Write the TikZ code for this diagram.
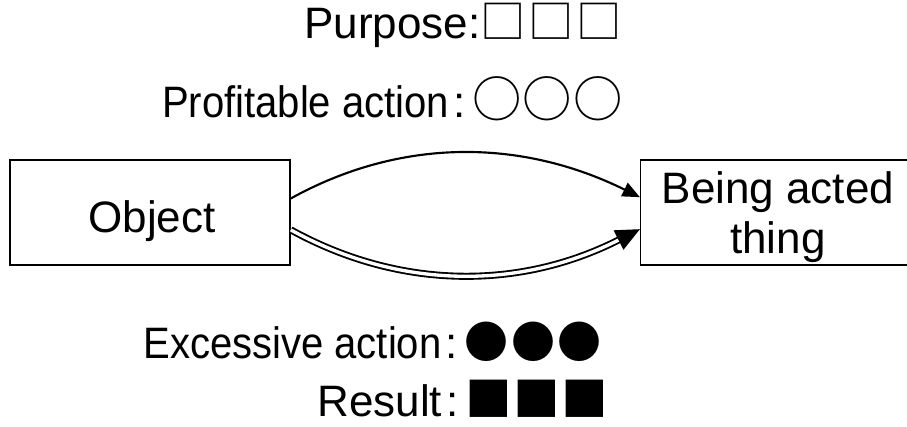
\documentclass[tikz,border=0pt]{standalone}
\usepackage{fontspec}
\setmainfont{Liberation Sans}
\newfontfamily\narrowsans[FakeStretch=0.91]{Liberation Sans}
\newfontfamily\cjk{Noto Sans CJK JP}
\usetikzlibrary{positioning,arrows.meta}
% three full-width marks: size, gap, glyph
\newcommand\trio[3]{{\cjk\fontsize{#1}{38}\selectfont #3\hspace{#2}#3\hspace{#2}#3}}
\newcommand\fcolon{\kern3pt:\kern5pt}

\begin{document}
\begin{tikzpicture}[x=0.75pt, y=-0.75pt,
    font=\fontsize{33}{37.5}\selectfont,
    box/.style={draw, line width=1.1pt, inner sep=0pt},
    txt/.style={inner sep=0pt, anchor=base east},
    link/.style={line width=1.6pt}]
    \useasboundingbox (0,0) rectangle (907,426);

    \node[txt] (purpose) at (622,38) {Purpose:\trio{34}{2pt}{□}};
    \node[txt] (profit) at (623,117) {{\narrowsans Profitable action}\fcolon\trio{37}{1pt}{○}};

    \node[box, minimum width=210pt, minimum height=78.75pt] (obj) at (150,212.5) {};
    \node[txt, anchor=base] (objtxt) at (152,232) {Object};
    \node[box, minimum width=200pt, minimum height=78.75pt] (thing) at (774,212.5) {};
    \node[txt, anchor=base] (thingtxt) at (778,203) {Being acted};
    \node[txt, anchor=base] (thingtxt2) at (778,253) {thing};

    \node[txt] (excess) at (602,358) {{\narrowsans Excessive action}\fcolon\trio{33}{2pt}{●}};
    \node[txt] (result) at (608,416) {Result\fcolon\trio{35}{1pt}{■}};

    \draw[link, -{Triangle[length=13pt,width=11pt]}] ([yshift=10.5pt]obj.east)
        .. controls (400,138) and (520,138) .. ([yshift=11.5pt]thing.west);
    \draw[link, line width=1.4pt, double, double distance=2.5pt, -{Triangle[length=18pt,width=16pt]}] ([yshift=-13pt]obj.east)
        .. controls (400,290) and (520,290) .. ([yshift=-12.5pt]thing.west);
\end{tikzpicture}
\end{document}
